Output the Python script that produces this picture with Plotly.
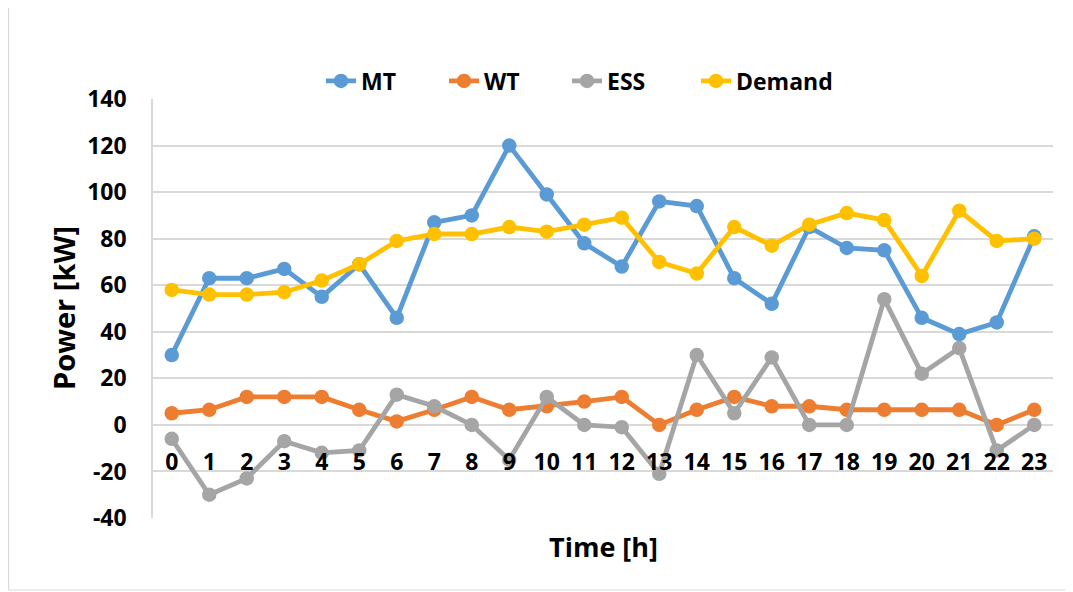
import plotly.graph_objects as go

hours = list(range(24))
mt = [30, 63, 63, 67, 55, 69, 46, 87, 90, 120, 99, 78, 68, 96, 94, 63, 52, 85, 76, 75, 46, 39, 44, 81]
wt = [5, 6.5, 12, 12, 12, 6.5, 1.5, 6.5, 12, 6.5, 8, 10, 12, 0, 6.5, 12, 8, 8, 6.5, 6.5, 6.5, 6.5, 0, 6.5]
ess = [-6, -30, -23, -7, -12, -11, 13, 8, 0, -15, 12, 0, -1, -21, 30, 5, 29, 0, 0, 54, 22, 33, -11, 0]
demand = [58, 56, 56, 57, 62, 69, 79, 82, 82, 85, 83, 86, 89, 70, 65, 85, 77, 86, 91, 88, 64, 92, 79, 80]
series = [("MT", mt, "#5B9BD5"), ("WT", wt, "#ED7D31"), ("ESS", ess, "#A5A5A5"), ("Demand", demand, "#FFC000")]
y_ticks = list(range(-40, 141, 20))
y_ticktext = [str(v) for v in y_ticks]  # plain hyphen minus like the original

FONT = "Open Sans"
OFF = 8  # page body margin
W, H = 1073 - OFF, 592 - OFF
# desired plot area in page coords: x 153..1053, y 99..518
L, T = 153 - OFF, 99 - OFF
R = W - (1053 - OFF)
B = H - (518 - OFF)
pw, ph = W - L - R, H - T - B

def px(x):  # page x -> paper fraction
    return (x - OFF - L) / pw

def py(y):  # page y -> paper fraction
    return (H - B - (y - OFF)) / ph

legend_text_x = [366, 489, 612, 741]
legend_names = ["legend", "legend2", "legend3", "legend4"]

fig = go.Figure()
for (name, vals, col), lg in zip(series, legend_names):
    fig.add_trace(go.Scatter(x=hours, y=vals, name=name, mode="lines+markers",
                             line=dict(color=col, width=4.8),
                             marker=dict(color=col, size=14.5), legend=lg))

legend_layout = {}
for lg, tx in zip(legend_names, legend_text_x):
    legend_layout[lg] = dict(orientation="h", x=px(tx - 45), xanchor="left", y=py(81),
                             yanchor="middle", bgcolor="rgba(0,0,0,0)",
                             font=dict(size=23, family=FONT, weight="bold"))

fig.update_layout(
    width=W, height=H,
    margin=dict(l=L, r=R, t=T, b=B, autoexpand=False),
    paper_bgcolor="white", plot_bgcolor="white",
    font=dict(family=FONT, color="black"),
    showlegend=True,
    **legend_layout,
    xaxis=dict(range=[-0.5, 23.5], tickmode="array", tickvals=hours,
               ticktext=[str(h) for h in hours], showgrid=False, zeroline=False,
               showline=False, anchor="free", position=40/180,
               tickfont=dict(size=23, family=FONT, weight="bold"),
               ticklabelstandoff=21),
    yaxis=dict(range=[-40, 140], tickmode="array", tickvals=y_ticks, ticktext=y_ticktext,
               showgrid=True, gridcolor="#d9d9d9",
               gridwidth=1.5, zeroline=False, showline=True, linecolor="#d9d9d9",
               linewidth=1.5, tickfont=dict(size=23, family=FONT, weight="bold"),
               ticklabelstandoff=20),
    annotations=[
        dict(text="Power [kW]", x=px(63), y=py(308), xref="paper", yref="paper",
             xanchor="center", yanchor="middle",
             showarrow=False, textangle=-90, font=dict(size=29, family=FONT, weight="bold")),
        dict(text="Time [h]", x=px(603), y=py(546), xref="paper", yref="paper",
             xanchor="center", yanchor="middle",
             showarrow=False, font=dict(size=27, family=FONT, weight="bold")),
    ],
    shapes=[dict(type="rect", xref="paper", yref="paper", x0=px(8.6), x1=px(1066),
                 y0=py(590), y1=py(6), line=dict(color="#d9d9d9", width=1.2), layer="below")],
)

fig.write_html("out.html")
